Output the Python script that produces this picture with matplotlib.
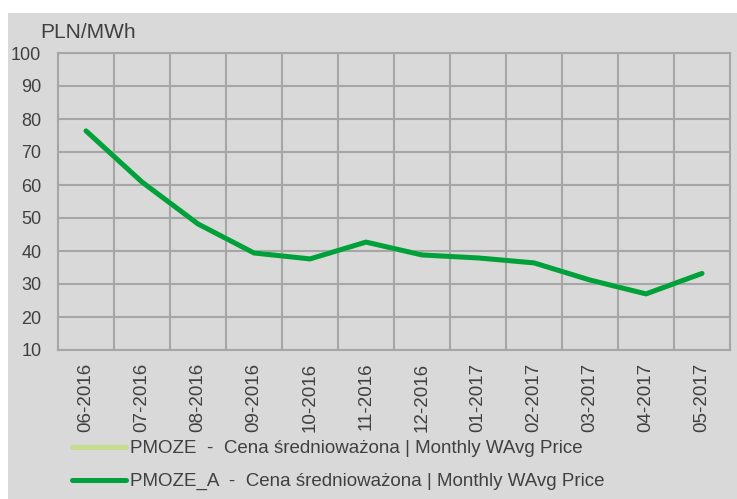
import matplotlib.pyplot as plt
from matplotlib.patches import Rectangle

months = ['06-2016', '07-2016', '08-2016', '09-2016', '10-2016', '11-2016',
          '12-2016', '01-2017', '02-2017', '03-2017', '04-2017', '05-2017']
pmoze_a = [76.4, 60.9, 48.2, 39.4, 37.6, 42.7, 38.8, 37.9, 36.4, 31.2, 27.0, 33.2]
pmoze = pmoze_a  # hidden under PMOZE_A
y_ticks = [10, 20, 30, 40, 50, 60, 70, 80, 90, 100]

plt.rcParams['font.family'] = ['Liberation Sans', 'DejaVu Sans']

W, H = 737, 499
fig = plt.figure(figsize=(W / 100, H / 100), dpi=100)
fig.patch.set_facecolor('white')
# grey panel
fig.patches.append(Rectangle((8 / W, 0), 1 - 8 / W, 1 - 13 / H, transform=fig.transFigure,
                             facecolor='#d9d9d9', edgecolor='none', zorder=-10))

ax = fig.add_axes([58 / W, 1 - 350 / H, (730 - 58) / W, (350 - 53) / H])
ax.set_facecolor('#d9d9d9')

x = list(range(len(months)))
ax.plot(x, pmoze, color='#c3dd8d', lw=3.6, solid_capstyle='round',
        label='PMOZE  -  Cena średnioważona | Monthly WAvg Price')
ax.plot(x, pmoze_a, color='#00a03c', lw=3.6, solid_capstyle='round',
        label='PMOZE_A  -  Cena średnioważona | Monthly WAvg Price')

ax.set_xlim(-0.5, len(months) - 0.5)
ax.set_ylim(10, 100)
ax.set_yticks(y_ticks)
ax.set_xticks([i + 0.5 for i in x[:-1]], minor=False)
ax.set_xticklabels([])
ax.set_xticks(x, minor=True)
ax.set_xticklabels(months, minor=True, rotation=90, fontsize=13.5, color='#404040')
ax.tick_params(axis='x', which='both', length=0)
ax.tick_params(axis='x', which='minor', pad=9)
ax.tick_params(axis='y', length=0, pad=12, labelsize=13, labelcolor='#404040')

ax.grid(True, which='major', color='#a6a6a6', lw=1.5)
ax.set_axisbelow(True)
for s in ax.spines.values():
    s.set_color('#a6a6a6')
    s.set_linewidth(1.5)

fig.text(40 / W, 1 - 32 / H, 'PLN/MWh', fontsize=15, color='#404040', va='center', ha='left')

leg = ax.legend(loc='upper left', bbox_to_anchor=(72 / W, 1 - 440 / H),
                bbox_transform=fig.transFigure, frameon=False, fontsize=13.5,
                handlelength=2.9, handletextpad=0.2, labelspacing=0.85,
                borderaxespad=0, borderpad=0)
for t in leg.get_texts():
    t.set_color('#404040')

fig.savefig('out.png', dpi=100, facecolor=fig.get_facecolor())
